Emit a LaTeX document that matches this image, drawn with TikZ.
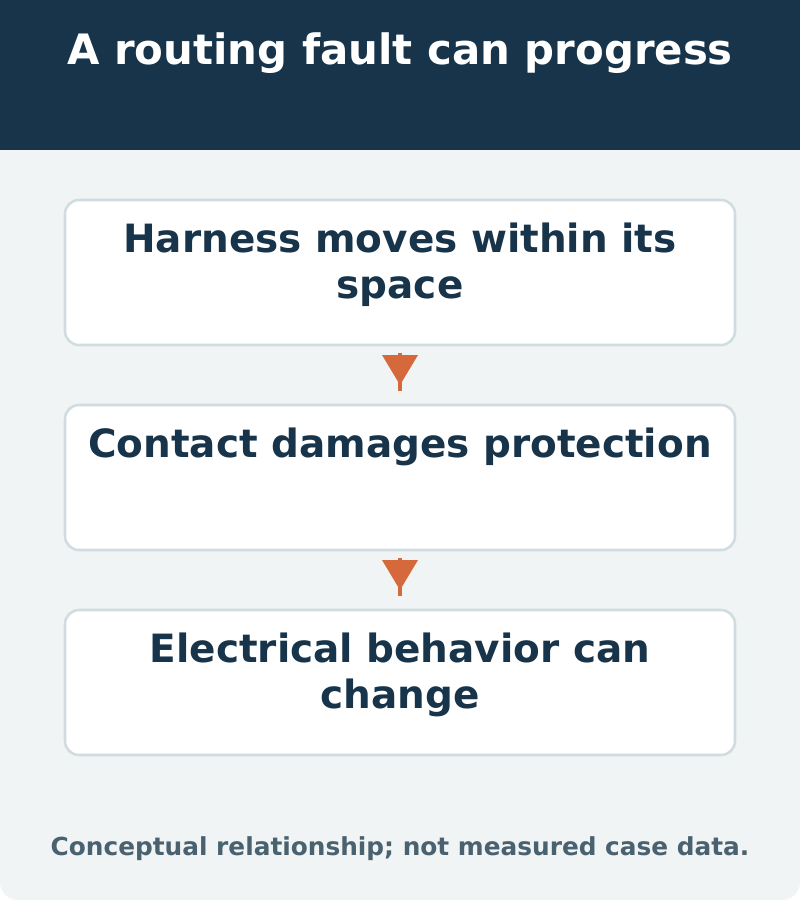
\documentclass[tikz,border=0pt]{standalone}
\usepackage{fontspec}
\setmainfont{DejaVu Sans}
\definecolor{navy}{HTML}{17344A}
\definecolor{bgc}{HTML}{F0F4F5}
\definecolor{edge}{HTML}{D0DCE0}
\definecolor{orng}{HTML}{D6693C}
\definecolor{foot}{HTML}{4A6270}
\begin{document}
\begin{tikzpicture}[x=0.75pt,y=-0.75pt,
  stepbox/.style={draw=edge,line width=1.9pt,fill=white,rounded corners=10.5pt},
  boxtext/.style={anchor=base,text=navy,font=\bfseries\fontsize{29.2}{35}\selectfont,inner sep=0pt},
  flowline/.style={draw=orng,line width=3.5pt},
  headtri/.style={fill=orng,draw=none}]
\useasboundingbox (0,0) rectangle (800,900);
\fill[white] (0,0) rectangle (800,900);
\fill[bgc,rounded corners=13.5pt] (0,-20) rectangle (800,900);
\fill[navy] (0,0) rectangle (800,150);
\node[anchor=base,text=white,font=\bfseries\fontsize{31.4}{36}\selectfont,inner sep=0pt] (title) at (400,64) {A routing fault can progress};
% boxes
\node[stepbox,minimum width=670*0.75pt,minimum height=145*0.75pt,inner sep=0pt] (b1) at (400,272.5) {};
\node[stepbox,minimum width=670*0.75pt,minimum height=145*0.75pt,inner sep=0pt] (b2) at (400,477.5) {};
\node[stepbox,minimum width=670*0.75pt,minimum height=145*0.75pt,inner sep=0pt] (b3) at (400,682.5) {};
\node[boxtext] (t1a) at (400,252) {Harness moves within its};
\node[boxtext] (t1b) at (400,298) {space};
\node[boxtext] (t2a) at (400,457) {Contact damages protection};
\node[boxtext] (t3a) at (400,662) {Electrical behavior can};
\node[boxtext] (t3b) at (400,708) {change};
% arrows
\coordinate (a1s) at (400,352.7);
\coordinate (a1e) at (400,390.7);
\draw[flowline] (a1s) -- (a1e);
\fill[headtri] (382,355) -- (418,355) -- (400,385) -- cycle;
\coordinate (a2s) at (400,557.7);
\coordinate (a2e) at (400,595.7);
\draw[flowline] (a2s) -- (a2e);
\fill[headtri] (382,560) -- (418,560) -- (400,590) -- cycle;
\node[anchor=base,text=foot,font=\bfseries\fontsize{18.6}{22}\selectfont,inner sep=0pt] (foot) at (400,855) {Conceptual relationship; not measured case data.};
\end{tikzpicture}
\end{document}
